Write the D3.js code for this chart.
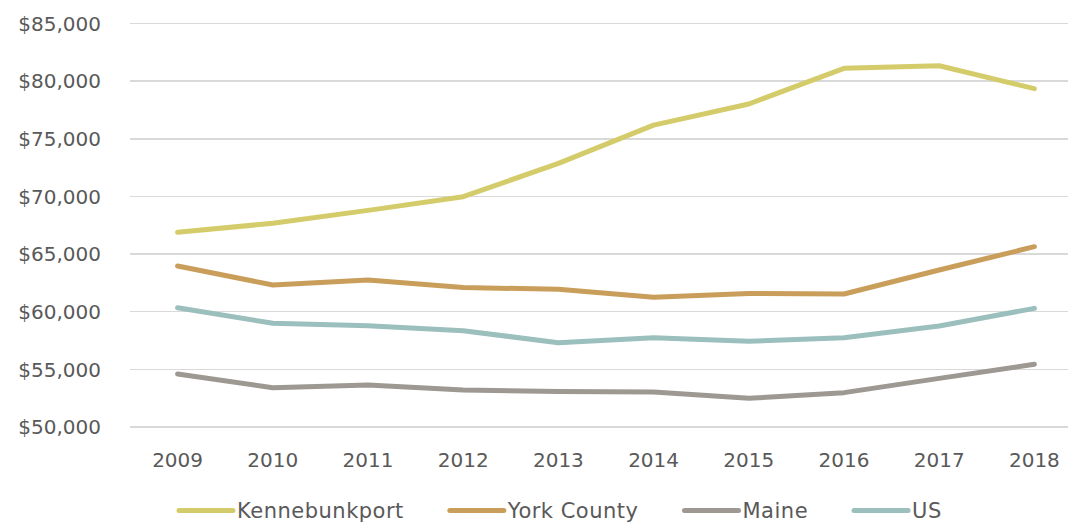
<!DOCTYPE html>
<html lang="en">
<head>
<meta charset="utf-8">
<script src="https://cdn.jsdelivr.net/npm/d3@7/dist/d3.min.js"></script>
<style type="text/css">
body {
	margin: 0;
	background-color: #ffffff;
}
svg text {
	font-family: "DejaVu Sans", sans-serif;
	font-size: 20px;
	fill: #595959;
}
.legend text {
	font-size: 21px;
	letter-spacing: 0.5px;
}
.grid line {
	stroke: #d9d9d9;
	stroke-width: 1.5;
	shape-rendering: crispEdges;
}
</style>
</head>
<body>
<script type="text/javascript">

// years on the x axis
var years = ["2009", "2010", "2011", "2012", "2013", "2014", "2015", "2016", "2017", "2018"];

// median household income
var kennebunkport = [66890, 67670, 68790, 69980, 72870, 76190, 78020, 81110, 81340, 79345];
var yorkCounty = [63965, 62320, 62750, 62100, 61940, 61250, 61590, 61540, 63620, 65640];
var maine = [54600, 53410, 53640, 53210, 53070, 53040, 52490, 52980, 54220, 55440];
var us = [60350, 59000, 58790, 58350, 57310, 57750, 57430, 57750, 58760, 60290];

var seriesNames = ["Kennebunkport", "York County", "Maine", "US"];
var seriesColors = ["#d4cc6a", "#c99e5a", "#9d9892", "#9bbfbd"];
var yTicks = [50000, 55000, 60000, 65000, 70000, 75000, 80000, 85000];

var series = [kennebunkport, yorkCounty, maine, us];

var width = 1068, height = 522;

var svg = d3.select("body")
	.append("svg")
	.attr("width", width)
	.attr("height", height);

var x = d3.scalePoint()
	.domain(years)
	.range([130, 1082])
	.padding(0.5);

var y = d3.scaleLinear()
	.domain([50000, 85000])
	.range([427, 23.5]);

// gridlines
svg.append("g")
	.attr("class", "grid")
	.selectAll("line")
	.data(yTicks)
	.enter()
	.append("line")
	.attr("x1", 130)
	.attr("x2", width)
	.attr("y1", function(d) { return y(d); })
	.attr("y2", function(d) { return y(d); });

// y labels
var fmt = d3.format("$,");
svg.append("g")
	.selectAll("text")
	.data(yTicks)
	.enter()
	.append("text")
	.attr("x", 101)
	.attr("y", function(d) { return y(d); })
	.attr("dy", "0.36em")
	.attr("text-anchor", "end")
	.text(function(d) { return fmt(d); });

// x labels
svg.append("g")
	.selectAll("text")
	.data(years)
	.enter()
	.append("text")
	.attr("x", function(d) { return x(d); })
	.attr("y", 467)
	.attr("text-anchor", "middle")
	.text(function(d) { return d; });

// lines
var line = d3.line()
	.x(function(d, i) { return x(years[i]); })
	.y(function(d) { return y(d); });

svg.append("g")
	.selectAll("path")
	.data(series)
	.enter()
	.append("path")
	.attr("d", line)
	.style("fill", "none")
	.style("stroke", function(d, i) { return seriesColors[i]; })
	.style("stroke-width", 5)
	.style("stroke-linecap", "round")
	.style("stroke-linejoin", "round");

// legend
var legend = svg.append("g").attr("class", "legend");
var lx = 179;
seriesNames.forEach(function(name, i) {
	var item = legend.append("g").attr("transform", "translate(" + lx + ",510.5)");
	item.append("line")
		.attr("x1", 0)
		.attr("x2", 54)
		.style("stroke", seriesColors[i])
		.style("stroke-width", 5)
		.style("stroke-linecap", "round");
	var t = item.append("text")
		.attr("x", 58)
		.attr("y", 0)
		.attr("dy", "0.36em")
		.text(name);
	lx += 58 + t.node().getComputedTextLength() + 46;
});

</script>
</body>
</html>
